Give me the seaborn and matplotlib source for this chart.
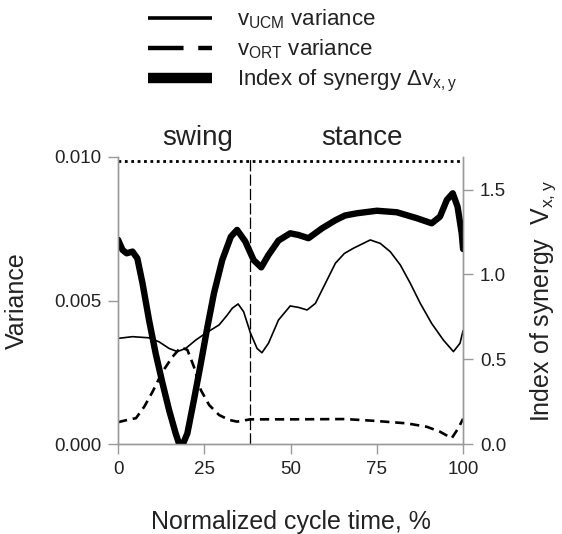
import matplotlib
matplotlib.use("Agg")
import matplotlib.pyplot as plt
import seaborn as sns
import pandas as pd

sns.set_style("ticks")
plt.rcParams['font.family'] = ['Liberation Sans', 'DejaVu Sans']
plt.rcParams['mathtext.default'] = 'regular'

# v_UCM variance (left axis)
ucm_x = [0, 4.2, 9.0, 11.9, 14.8, 17.2, 19.6, 22.5, 25.4, 29.3, 31.7, 33.1,
         34.8, 36.4, 38.4, 40.3, 41.7, 43.6, 46.5, 49.9, 52.3, 54.8, 57.2,
         60.1, 63.0, 65.6, 68.2, 73.1, 76.0, 78.9, 81.8, 84.7, 87.6, 90.9,
         94.3, 97.2, 99.1, 100]
ucm_y = [0.00368, 0.00374, 0.00370, 0.00356, 0.00333, 0.00322, 0.00333,
         0.00362, 0.00386, 0.00415, 0.00450, 0.00473, 0.00488, 0.00461,
         0.00386, 0.00333, 0.00318, 0.00351, 0.00432, 0.00481, 0.00476,
         0.00467, 0.00490, 0.00560, 0.00630, 0.00664, 0.00682, 0.00711,
         0.00699, 0.00670, 0.00624, 0.00560, 0.00490, 0.00420, 0.00362,
         0.00322, 0.00351, 0.00395]

# v_ORT variance (left axis)
ort_x = [0, 2.7, 5.2, 7.6, 10.0, 12.9, 15.8, 18.2, 20.1, 22.0, 24.0, 26.4,
         29.3, 32.2, 34.5, 38.3, 50.4, 65.8, 74.0, 83.7, 89.5, 93.3, 96.7,
         98.6, 100]
ort_y = [0.00076, 0.00084, 0.00090, 0.00130, 0.00182, 0.00252, 0.00304,
         0.00337, 0.00328, 0.00269, 0.00188, 0.00136, 0.00101, 0.00084,
         0.00078, 0.00086, 0.00086, 0.00087, 0.00081, 0.00072, 0.00060,
         0.00043, 0.00020, 0.00055, 0.00088]

# index of synergy (right axis)
syn_x = [0, 1.3, 2.5, 4.2, 5.6, 7.1, 9.0, 10.9, 12.9, 14.8, 16.7, 18.2,
         20.1, 22.0, 24.0, 25.9, 27.8, 30.2, 32.7, 34.5, 36.9, 39.3, 41.5,
         43.6, 46.5, 49.9, 52.3, 55.2, 59.1, 63.0, 65.8, 69.2, 75.0, 80.8,
         86.6, 90.9, 93.3, 95.3, 97.0, 98.4, 99.6, 100]
syn_y = [1.205, 1.145, 1.125, 1.135, 1.095, 0.948, 0.730, 0.535, 0.358,
         0.200, 0.063, -0.03, 0.063, 0.260, 0.476, 0.690, 0.889, 1.085,
         1.223, 1.263, 1.194, 1.085, 1.042, 1.115, 1.200, 1.243, 1.233,
         1.214, 1.272, 1.320, 1.348, 1.361, 1.376, 1.367, 1.332, 1.302,
         1.341, 1.440, 1.479, 1.400, 1.243, 1.150]

phase_split = 38.3
top_level = 0.00986

ucm = pd.DataFrame({"t": ucm_x, "v": ucm_y})
ort = pd.DataFrame({"t": ort_x, "v": ort_y})
syn = pd.DataFrame({"t": syn_x, "v": syn_y})

fig, ax = plt.subplots(figsize=(5.62, 5.34), dpi=100)
plt.subplots_adjust(left=0.21, right=0.824, bottom=0.1685, top=0.706)
ax2 = ax.twinx()

sns.lineplot(data=ucm, x="t", y="v", ax=ax, color="black", linewidth=1.2,
             label=r"v$_{UCM}$ variance", legend=False)
sns.lineplot(data=ort, x="t", y="v", ax=ax, color="black", linewidth=1.9,
             linestyle=(0, (3.5, 2.2)), label=r"v$_{ORT}$ variance", legend=False)
sns.lineplot(data=syn, x="t", y="v", ax=ax2, color="black", linewidth=4.6,
             label=r"Index of synergy Δv$_{x,y}$", legend=False)

ax.axhline(top_level, color="black", linestyle=(0, (1, 1.3)), linewidth=2.0)
ax.axvline(phase_split, color="black", linestyle=(0, (9, 2.5)), linewidth=0.9)

ax.set_xlim(0, 100)
ax.set_ylim(0, 0.010)
ax2.set_ylim(0, 1.693)
ax.set_xticks([0, 25, 50, 75, 100])
ax.set_yticks([0, 0.005, 0.010])
ax.set_yticklabels(["0.000", "0.005", "0.010"])
ax2.set_yticks([0, 0.5, 1.0, 1.5])
ax2.set_yticklabels(["0.0", "0.5", "1.0", "1.5"])

for a in (ax, ax2):
    for s in a.spines.values():
        s.set_color("#9a9a9a")
        s.set_linewidth(1.0)
    a.spines["top"].set_visible(False)
    a.tick_params(colors="#9a9a9a", labelcolor="#222222", labelsize=13.5,
                  length=7, width=1.0, pad=5)

ax.set_xlabel("Normalized cycle time, %", fontsize=18, labelpad=23,
              color="#222222")
ax.set_ylabel("Variance", fontsize=18, labelpad=18, color="#222222")
ax2.set_ylabel(r"Index of synergy  V$_{x,y}$", fontsize=18, labelpad=16,
               color="#222222")

ax.text(23, 1.02, "swing", transform=ax.get_xaxis_transform(), ha="center",
        va="bottom", fontsize=20, color="#222222")
ax.text(70.8, 1.02, "stance", transform=ax.get_xaxis_transform(), ha="center",
        va="bottom", fontsize=20, color="#222222")

h1, l1 = ax.get_legend_handles_labels()
h2, l2 = ax2.get_legend_handles_labels()
leg = fig.legend(h1[:2] + h2, l1[:2] + l2, loc="upper left",
                 bbox_to_anchor=(0.263, 0.986), frameon=False, fontsize=16,
                 handlelength=2.9, handletextpad=1.1, labelspacing=0.3,
                 borderpad=0, borderaxespad=0, labelcolor="#222222")
# legend keys are drawn heavier than the plot lines, with flat ends
leg_lines = leg.get_lines()
leg_lines[0].set_linewidth(2.6)
leg_lines[1].set_linewidth(3.2)
leg_lines[1].set_linestyle((0, (8, 3.3)))
leg_lines[2].set_linewidth(7.5)
for ln in leg_lines:
    ln.set_solid_capstyle("butt")
    ln.set_dash_capstyle("butt")

fig.savefig("out.png", dpi=100)
